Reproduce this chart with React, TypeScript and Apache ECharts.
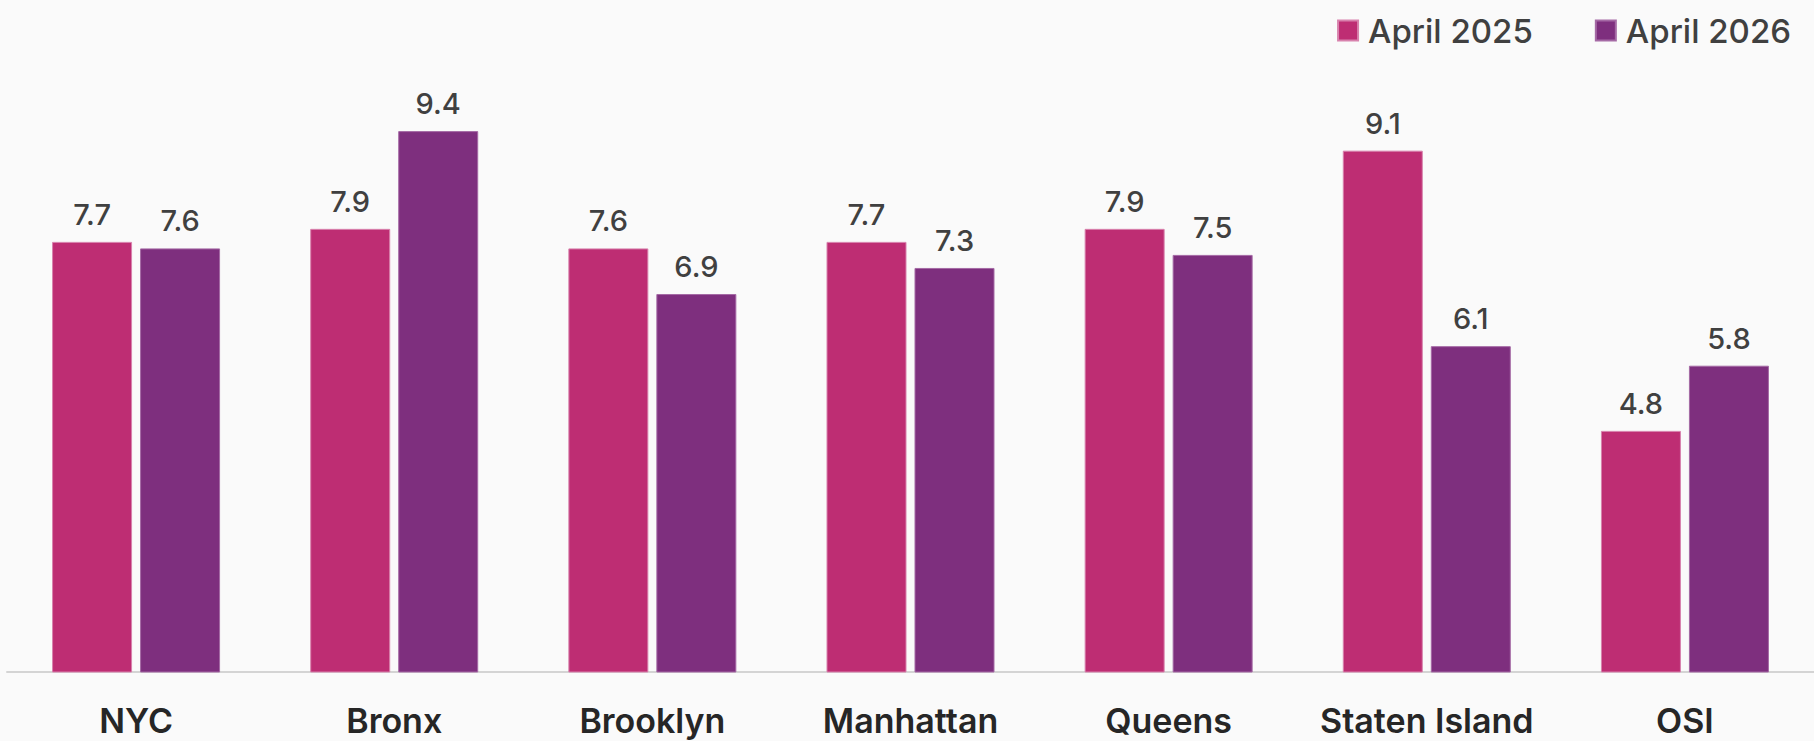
import React, { useEffect, useRef } from "react";
import * as echarts from "echarts";

const categories = ["NYC", "Bronx", "Brooklyn", "Manhattan", "Queens", "Staten Island", "OSI"];
const april2025 = [7.7, 7.9, 7.6, 7.7, 7.9, 9.1, 4.8];
const april2026 = [7.6, 9.4, 6.9, 7.3, 7.5, 6.1, 5.8];
const seriesNames = ["April 2025", "April 2026"];

const PINK = "#BE2D73";
const PURPLE = "#7E2F7E";
const FONT = "Inter, 'Noto Sans', sans-serif";

export default function App() {
  const ref = useRef<HTMLDivElement>(null);
  useEffect(() => {
    document.body.style.margin = "0";
    document.body.style.background = "#fafafa";
    const chart = echarts.init(ref.current!, null, { renderer: "svg" });
    const label = {
      show: true,
      position: "top" as const,
      distance: 13,
      color: "#404040",
      fontFamily: FONT,
      fontSize: 29,
      fontWeight: 500,
      formatter: (p: any) => Number(p.value).toFixed(1),
    };
    chart.setOption({
      animation: false,
      backgroundColor: "#fafafa",
      textStyle: { fontFamily: FONT },
      legend: {
        top: 9,
        right: 18,
        itemWidth: 20,
        itemHeight: 20,
        itemGap: 62,
        icon: "rect",
        textStyle: {
          fontFamily: FONT,
          fontSize: 33,
          fontWeight: 500,
          color: "#404040",
          padding: [0, 0, 0, 5],
        },
        data: seriesNames,
      },
      grid: { left: 7, right: 0, top: 92, bottom: 69, containLabel: false },
      xAxis: {
        type: "category",
        data: categories,
        axisLine: { show: true, lineStyle: { color: "#d4d4d4", width: 2 } },
        axisTick: { show: false },
        axisLabel: {
          margin: 31,
          color: "#262626",
          fontFamily: FONT,
          fontSize: 34,
          fontWeight: 600,
          interval: 0,
        },
      },
      yAxis: {
        type: "value",
        min: 1.1,
        max: 10,
        show: false,
        splitLine: { show: false },
      },
      series: [
        {
          name: seriesNames[0],
          type: "bar",
          data: april2025,
          barWidth: 80,
          barGap: "10%",
          itemStyle: { color: PINK, borderColor: "#d882ad", borderWidth: 1 },
          label,
        },
        {
          name: seriesNames[1],
          type: "bar",
          data: april2026,
          barWidth: 80,
          barGap: "10%",
          itemStyle: { color: PURPLE, borderColor: "#a56aa5", borderWidth: 1 },
          label,
        },
      ],
    });
    return () => chart.dispose();
  }, []);
  return <div ref={ref} style={{ width: 1814, height: 741 }} />;
}
